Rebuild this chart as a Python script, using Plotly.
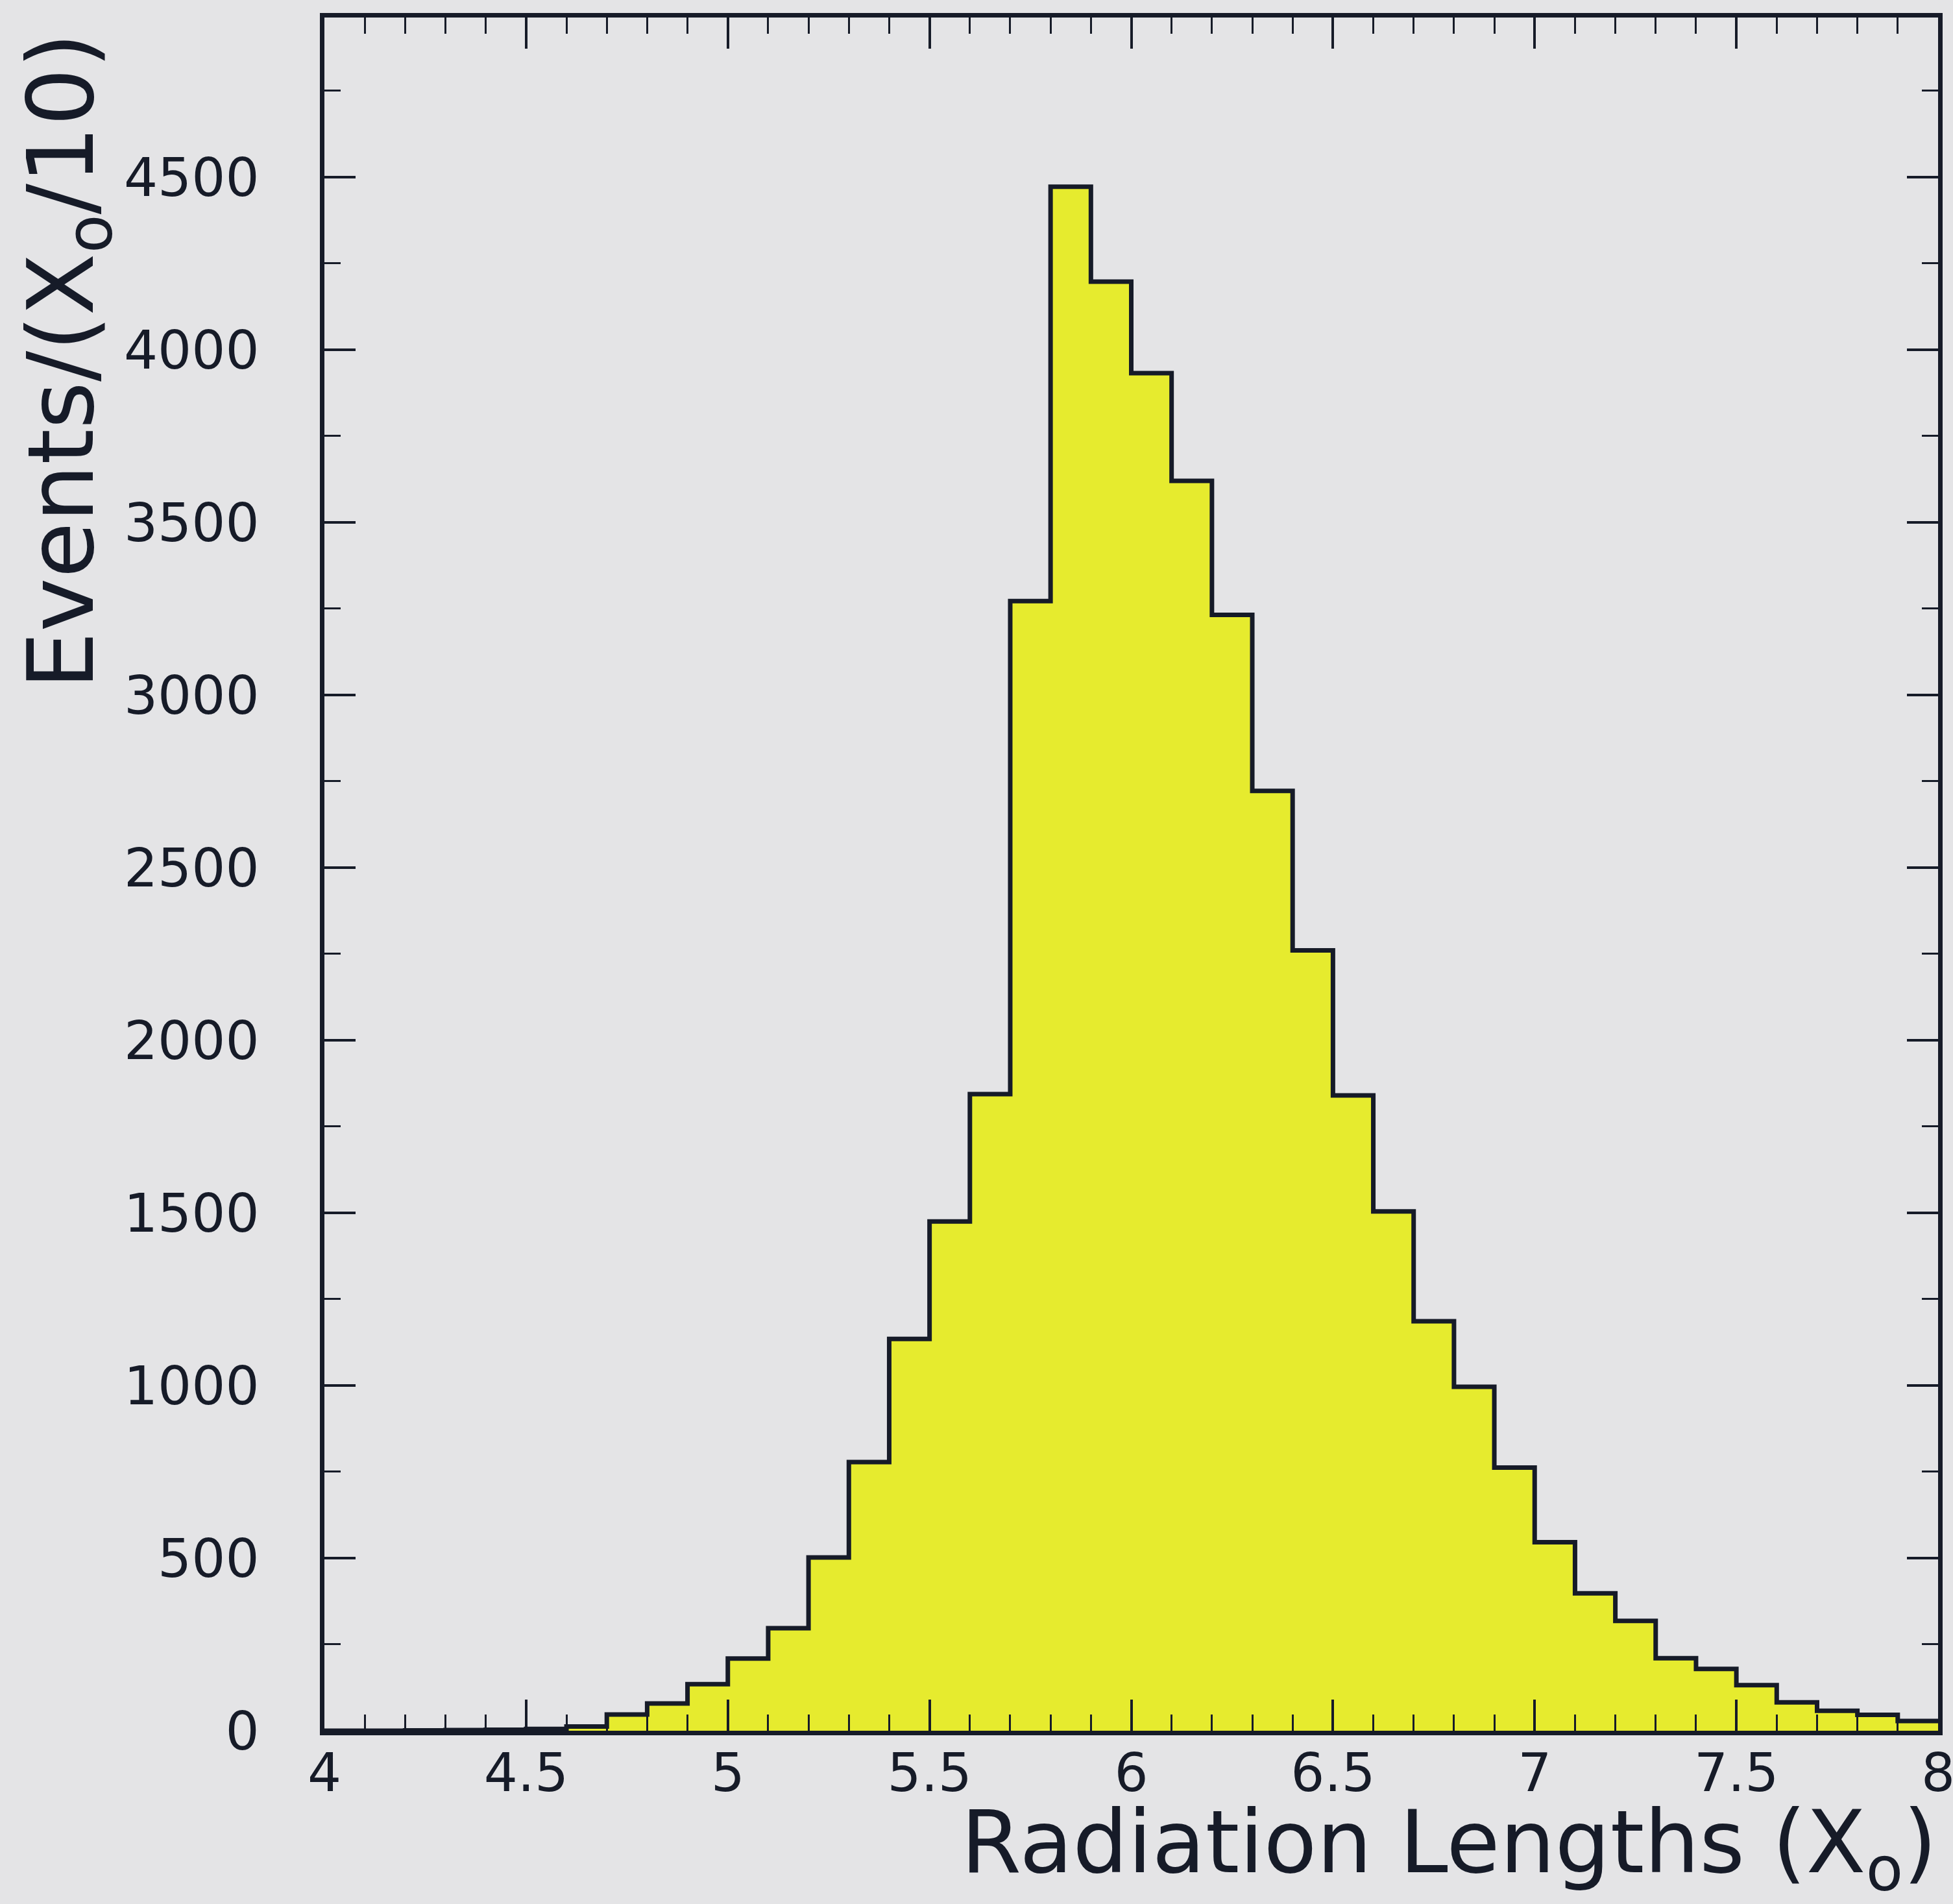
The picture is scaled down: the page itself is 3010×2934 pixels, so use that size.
import plotly.graph_objects as go

# Histogram: radiation lengths, bins of 0.1 X0 from 4.0 to 8.0
bin_edges = [round(4.0 + 0.1 * i, 1) for i in range(41)]
counts = [0, 0, 1, 2, 3, 5, 12, 47, 79, 135,
          209, 297, 502, 778, 1135, 1475, 1844, 3272, 4472, 4197,
          3932, 3620, 3232, 2722, 2260, 1840, 1504, 1186, 996, 762,
          546, 398, 318, 210, 179, 132, 82, 58, 46, 28]
x_tick_vals = [4, 4.5, 5, 5.5, 6, 6.5, 7, 7.5, 8]
x_tick_text = ["4", "4.5", "5", "5.5", "6", "6.5", "7", "7.5", "8"]

x_title = "Radiation Lengths (X<sub>o</sub>)"
y_title = "Events/(X<sub>o</sub>/10)"

BG = "#e4e4e6"
FILL = "#e6eb2e"
INK = "#161b28"

W, H = 3010, 2934
L, R, T, B = 500, 23, 27, 267
plot_h = H - T - B

fig = go.Figure()
fig.add_trace(go.Scatter(
    x=bin_edges,
    y=counts + [counts[-1]],
    mode="lines",
    line=dict(shape="hv", color=INK, width=7),
    fill="tozeroy",
    fillcolor=FILL,
    hoverinfo="skip",
    showlegend=False,
))

tick_font = dict(family="DejaVu Sans", size=82, color=INK)

fig.update_layout(
    width=W, height=H,
    margin=dict(l=L, r=R, t=T, b=B, pad=0, autoexpand=False),
    paper_bgcolor=BG, plot_bgcolor=BG,
    showlegend=False,
    xaxis=dict(
        range=[4, 8], tickmode="array", tickvals=x_tick_vals, ticktext=x_tick_text,
        ticks="inside", ticklen=48, tickwidth=4, tickcolor=INK,
        showline=True, linewidth=7, linecolor=INK, mirror="allticks",
        showgrid=False, zeroline=False, automargin=False,
        tickfont=tick_font, ticklabelstandoff=-12, ticklabeloverflow="allow",
        minor=dict(dtick=0.1, tick0=4, ticks="inside", ticklen=25,
                   tickwidth=3, tickcolor=INK, showgrid=False),
    ),
    yaxis=dict(
        range=[0, 4962], dtick=500, tick0=0,
        ticks="inside", ticklen=48, tickwidth=4, tickcolor=INK,
        showline=True, linewidth=7, linecolor=INK, mirror="allticks",
        showgrid=False, zeroline=False, automargin=False,
        tickfont=tick_font, ticklabelstandoff=77,
        minor=dict(dtick=250, tick0=0, ticks="inside", ticklen=25,
                   tickwidth=3, tickcolor=INK, showgrid=False),
    ),
)

fig.add_annotation(
    text=x_title, xref="paper", yref="paper",
    x=1.0, y=-(2848 - (H - B)) / plot_h,
    xanchor="right", yanchor="middle",
    showarrow=False, font=dict(family="DejaVu Sans", size=134, color=INK),
)
fig.add_annotation(
    text=y_title, xref="paper", yref="paper",
    x=(104 - L) / (W - L - R), y=((H - B) - 556) / plot_h,
    xanchor="center", yanchor="middle", textangle=-90,
    showarrow=False, font=dict(family="DejaVu Sans", size=140, color=INK),
)

fig.write_html("out.html")
